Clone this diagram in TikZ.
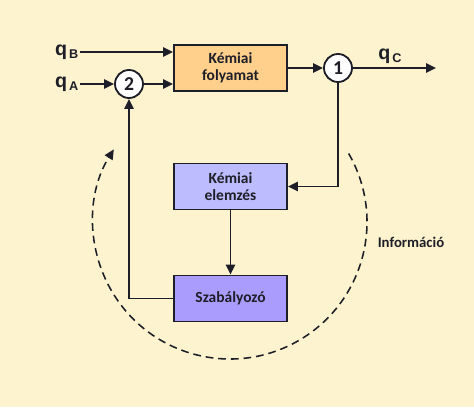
\documentclass[tikz,border=0pt]{standalone}
\usepackage{fontspec}
\setmainfont{Carlito}
\newfontfamily\arialfont{Liberation Sans}
\usetikzlibrary{arrows.meta,positioning}
\definecolor{bgyellow}{RGB}{253,243,206}
\definecolor{procorange}{RGB}{255,208,140}
\definecolor{anlilac}{RGB}{188,188,255}
\definecolor{ctrlpurple}{RGB}{170,156,252}
\definecolor{inkdark}{RGB}{30,30,40}
\tikzset{
  blockbox/.style={draw=inkdark, line width=1.4pt, minimum width=2.825cm, minimum height=1.15cm,
    font=\bfseries\fontsize{11}{12.5}\selectfont, text=inkdark, align=center},
  sumnode/.style={circle, draw=inkdark, line width=1.3pt, fill=white, minimum size=0.7cm, inner sep=0pt,
    font=\bfseries\fontsize{14}{14}\selectfont, text=inkdark},
  flow/.style={draw=inkdark, line width=1.2pt, -{Triangle[length=7pt,width=6.5pt]}},
  qlabel/.style={font=\arialfont\bfseries\fontsize{14}{14}\selectfont, text=inkdark, inner sep=1pt}
}
\begin{document}
\begin{tikzpicture}
  \fill[bgyellow] (0,0) rectangle (11.85,10.175);
  \useasboundingbox (0,0) rectangle (11.85,10.175);

  % Blocks
  \node[blockbox, fill=procorange] (proc) at (5.763,8.475) {Kémiai\\folyamat};
  \node[blockbox, fill=anlilac] (anal) at (5.763,5.5125) {Kémiai\\elemzés};
  \node[blockbox, fill=ctrlpurple] (ctrl) at (5.763,2.7125) {Szabályozó};

  % Summing points
  \node[sumnode] (sumA) at (3.225,8.075) {2};
  \node[sumnode] (sumC) at (8.45,8.475) {1};

  % Inputs and output
  \coordinate (inB) at (2.0,8.875);
  \coordinate (inA) at (2.0,8.075);
  \coordinate (outC) at (10.9,8.475);
  \node[qlabel, anchor=east] (labB) at (inB) {q\raisebox{-0.35ex}{\fontsize{9}{9}\selectfont\,B}};
  \node[qlabel, anchor=east] (labA) at (inA) {q\raisebox{-0.35ex}{\fontsize{9}{9}\selectfont\,A}};
  \node[qlabel] (labC) at (9.75,8.78) {q\raisebox{-0.35ex}{\fontsize{9}{9}\selectfont\,C}};

  \draw[flow] (inB) -- (inB -| proc.west);
  \draw[flow] (inA) -- (sumA);
  \draw[flow] (sumA) -- (sumA -| proc.west);
  \draw[flow] (proc) -- (sumC);
  \draw[flow] (sumC) -- (outC);

  % Feedback loop
  \draw[flow] (sumC.south) |- (anal.east);
  \draw[flow] (anal) -- (ctrl);
  \draw[flow] (ctrl.west) -| (sumA.south);

  % Information circle
  \draw[inkdark, line width=1.1pt, dash pattern=on 5.5pt off 3.5pt, -{Triangle[length=7pt,width=6.5pt]}]
    (5.75,4.625) ++(30:3.425) arc[start angle=30, end angle=-212, radius=3.425];
  \node[font=\bfseries\fontsize{10.5}{12}\selectfont, text=inkdark] (info) at (10.275,4.125) {Információ};
\end{tikzpicture}
\end{document}
